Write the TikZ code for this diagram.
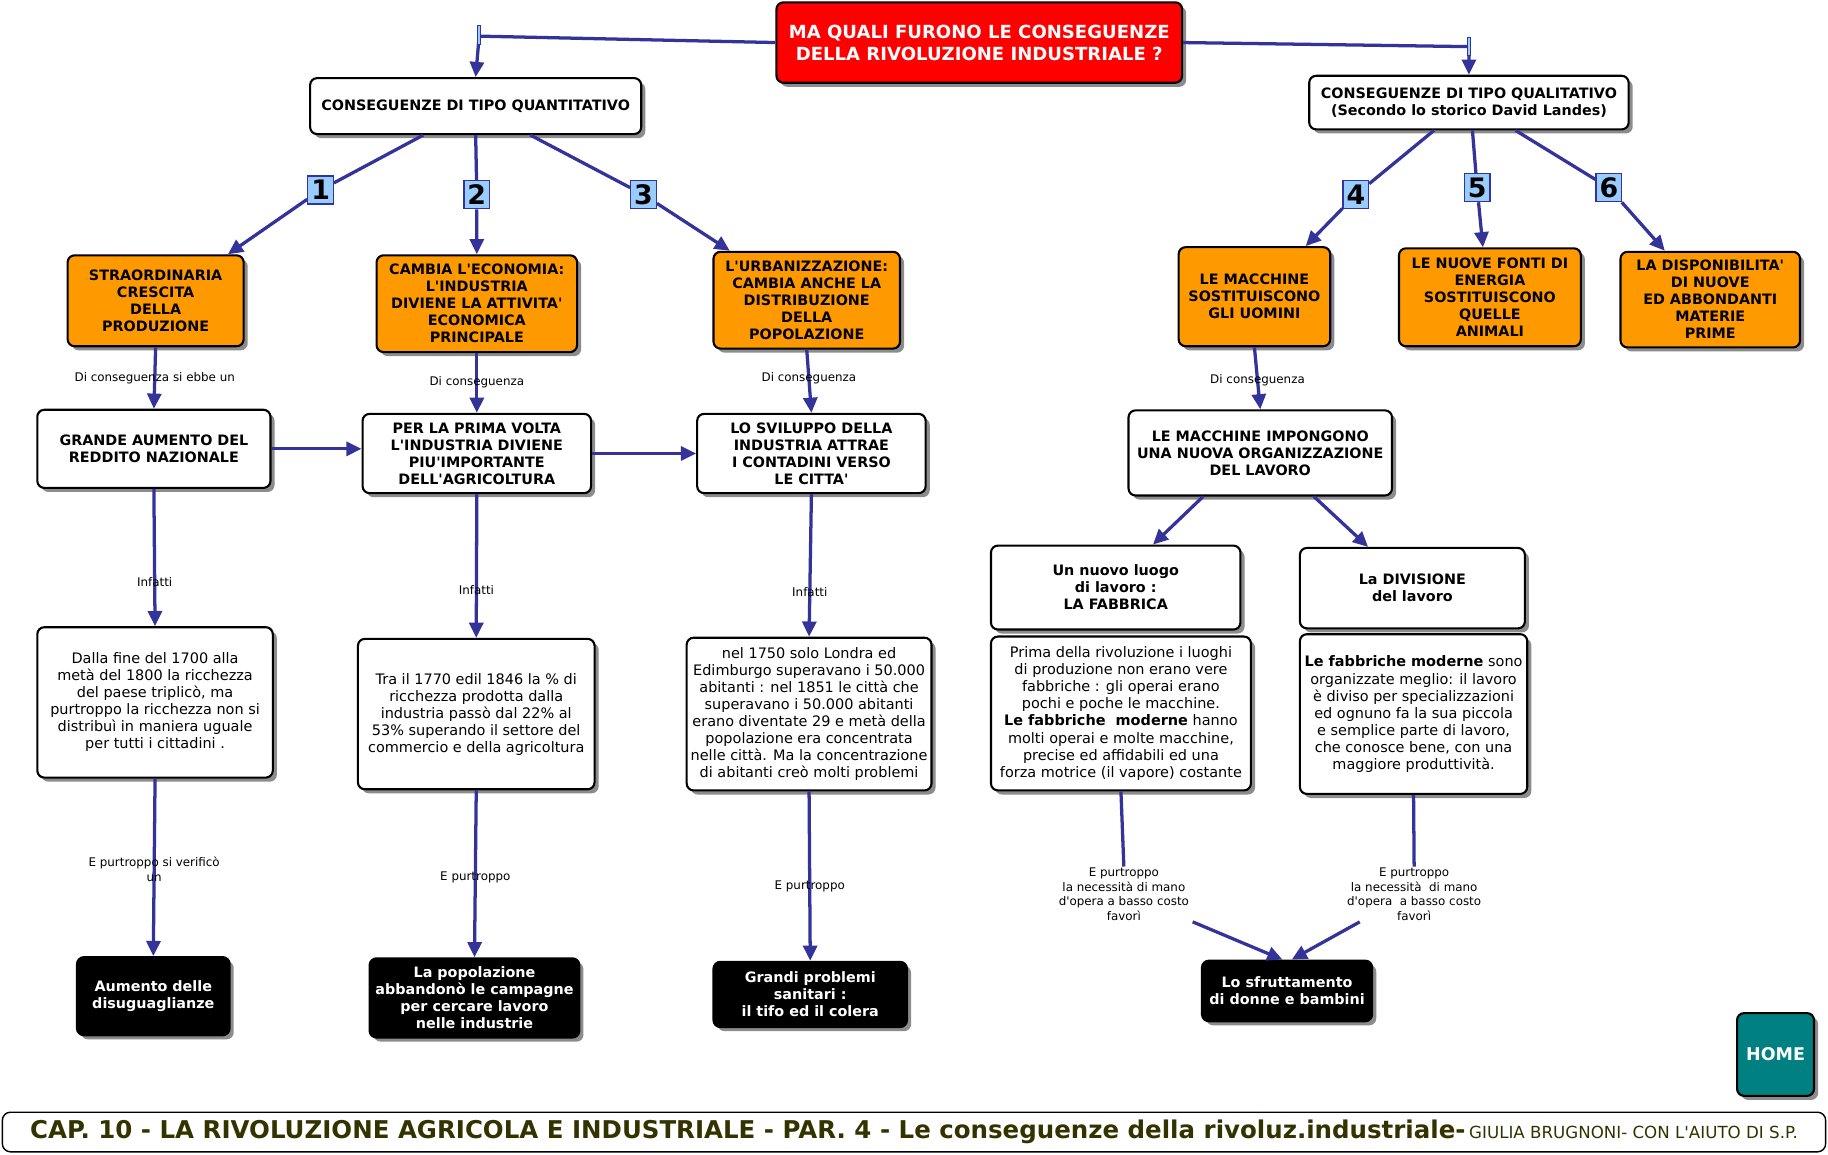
\documentclass[tikz,border=0pt]{standalone}
\usepackage{fontspec}
\setmainfont{DejaVu Sans}[Ligatures=TeXOff]
\usetikzlibrary{arrows.meta,shadows,calc}
\definecolor{arrowblue}{HTML}{333399}
\definecolor{boxorange}{HTML}{FF9900}
\definecolor{badgeblue}{HTML}{99CCFF}
\definecolor{hometeal}{HTML}{008080}
\definecolor{bannertext}{HTML}{333300}
\definecolor{titlered}{HTML}{FF0000}
\begin{document}
\begin{tikzpicture}[x=1pt,y=-1pt,
  basebox/.style={rectangle, rounded corners=6pt, draw=black, line width=1.8pt, align=center, inner sep=2pt,
    drop shadow={shadow xshift=3.5pt, shadow yshift=-3.5pt, fill=black, opacity=0.45}},
  whitebox/.style={basebox, fill=white, font=\fontsize{12.3}{14.6}\selectfont\bfseries},
  orangebox/.style={basebox, fill=boxorange, font=\fontsize{12.3}{14.6}\selectfont\bfseries},
  textbox/.style={basebox, fill=white, font=\fontsize{12.4}{14.6}\selectfont},
  blackbox/.style={basebox, fill=black, text=white, font=\fontsize{12.3}{14.6}\selectfont\bfseries},
  titlebox/.style={basebox, fill=titlered, text=white, font=\fontsize{15.5}{19}\selectfont\bfseries},
  homebox/.style={basebox, fill=hometeal, text=white, font=\fontsize{15}{18}\selectfont\bfseries},
  arr/.style={draw=arrowblue, line width=2.8pt, -{Triangle[length=13pt,width=12pt]}},
  plainline/.style={draw=arrowblue, line width=2.8pt},
  lbl/.style={font=\fontsize{10.2}{12.5}\selectfont, align=center, inner sep=1pt},
  badge/.style={rectangle, fill=badgeblue, draw=arrowblue, line width=1pt, minimum width=22pt, minimum height=24pt,
    inner sep=0pt, font=\fontsize{23}{23}\selectfont\bfseries},
  tick/.style={rectangle, fill=badgeblue, draw=arrowblue, line width=0.8pt, minimum width=3pt, minimum height=16pt, inner sep=0pt}
]
\useasboundingbox (0,0) rectangle (1568,990);

% ---------- title and two main branches
\node[titlebox, minimum width=348pt, minimum height=69pt] (title) at (840,36.5)
  {MA QUALI FURONO LE CONSEGUENZE\\DELLA RIVOLUZIONE INDUSTRIALE ?};
\node[whitebox, minimum width=284pt, minimum height=48pt] (quant) at (408,91)
  {CONSEGUENZE DI TIPO QUANTITATIVO};
\node[whitebox, minimum width=274pt, minimum height=46pt] (qual) at (1260,88)
  {CONSEGUENZE DI TIPO QUALITATIVO\\(Secondo lo storico David Landes)};

% ---------- orange boxes
\node[orangebox, minimum width=151pt, minimum height=78pt] (o1) at (133.5,258)
  {STRAORDINARIA\\CRESCITA\\DELLA\\PRODUZIONE};
\node[orangebox, minimum width=172pt, minimum height=83pt] (o2) at (409,260.5)
  {CAMBIA L'ECONOMIA:\\L'INDUSTRIA\\DIVIENE LA ATTIVITA'\\ECONOMICA\\PRINCIPALE};
\node[orangebox, minimum width=160pt, minimum height=83pt] (o3) at (692,257.5)
  {L'URBANIZZAZIONE:\\CAMBIA ANCHE LA\\DISTRIBUZIONE\\DELLA\\POPOLAZIONE};
\node[orangebox, minimum width=130pt, minimum height=85pt] (o4) at (1076,254.5)
  {LE MACCHINE\\SOSTITUISCONO\\GLI UOMINI};
\node[orangebox, minimum width=156pt, minimum height=84pt] (o5) at (1278,255)
  {LE NUOVE FONTI DI\\ENERGIA\\SOSTITUISCONO\\QUELLE\\ANIMALI};
\node[orangebox, minimum width=154pt, minimum height=82pt] (o6) at (1467,257)
  {LA DISPONIBILITA'\\DI NUOVE\\ED ABBONDANTI\\MATERIE\\PRIME};

% ---------- second row
\node[whitebox, minimum width=200pt, minimum height=67pt] (wA) at (132,385)
  {GRANDE AUMENTO DEL\\REDDITO NAZIONALE};
\node[whitebox, minimum width=196pt, minimum height=68pt] (wB) at (409,389)
  {PER LA PRIMA VOLTA\\L'INDUSTRIA DIVIENE\\PIU'IMPORTANTE\\DELL'AGRICOLTURA};
\node[whitebox, minimum width=196pt, minimum height=68pt] (wC) at (696,389)
  {LO SVILUPPO DELLA\\INDUSTRIA ATTRAE\\I CONTADINI VERSO\\LE CITTA'};
\node[whitebox, minimum width=226pt, minimum height=73pt] (wD) at (1081,388.5)
  {LE MACCHINE IMPONGONO\\UNA NUOVA ORGANIZZAZIONE\\DEL LAVORO};
\node[whitebox, minimum width=214pt, minimum height=72pt] (wE) at (957,504)
  {Un nuovo luogo\\di lavoro :\\LA FABBRICA};
\node[whitebox, minimum width=193pt, minimum height=69pt] (wF) at (1211.5,504.5)
  {La DIVISIONE\\del lavoro};

% ---------- text boxes
\node[textbox, minimum width=202pt, minimum height=129pt] (tA) at (133,602.5)
  {Dalla fine del 1700 alla\\metà del 1800 la ricchezza\\del paese triplicò, ma\\purtroppo la ricchezza non si\\distribuì in maniera uguale\\per tutti i cittadini .};
\node[textbox, minimum width=203pt, minimum height=129pt] (tB) at (408.5,612.5)
  {Tra il 1770 edil 1846 la \% di\\ricchezza prodotta dalla\\industria passò dal 22\% al\\53\% superando il settore del\\commercio e della agricoltura};
\node[textbox, minimum width=210pt, minimum height=131pt] (tC) at (694,612.5)
  {nel 1750 solo Londra ed\\Edimburgo superavano i 50.000\\abitanti : nel 1851 le città che\\superavano i 50.000 abitanti\\erano diventate 29 e metà della\\popolazione era concentrata\\nelle città. Ma la concentrazione\\di abitanti creò molti problemi};
\node[textbox, minimum width=223pt, minimum height=132pt] (tE) at (961.5,612)
  {Prima della rivoluzione i luoghi\\di produzione non erano vere\\fabbriche : gli operai erano\\pochi e poche le macchine.\\\textbf{Le fabbriche\ \ moderne} hanno\\molti operai e molte macchine,\\precise ed affidabili ed una\\forza motrice (il vapore) costante};
\node[textbox, minimum width=195pt, minimum height=137pt] (tF) at (1212.5,612.5)
  {\textbf{Le fabbriche moderne} sono\\organizzate meglio: il lavoro\\è diviso per specializzazioni\\ed ognuno fa la sua piccola\\e semplice parte di lavoro,\\che conosce bene, con una\\maggiore produttività.};

% ---------- black boxes
\node[blackbox, minimum width=131pt, minimum height=67pt] (bA) at (131.5,854.5)
  {Aumento delle\\disuguaglianze};
\node[blackbox, minimum width=180pt, minimum height=68pt] (bB) at (407,856)
  {La popolazione\\abbandonò le campagne\\per cercare lavoro\\nelle industrie};
\node[blackbox, minimum width=166pt, minimum height=56pt] (bC) at (695,853)
  {Grandi problemi\\sanitari :\\il tifo ed il colera};
\node[blackbox, minimum width=146pt, minimum height=52pt] (bG) at (1104,850)
  {Lo sfruttamento\\di donne e bambini};

% ---------- home and banner
\node[homebox, minimum width=66pt, minimum height=71pt] (home) at (1523,904.5) {HOME};
\node[rectangle, rounded corners=7pt, draw=black, line width=1.2pt, fill=white,
  minimum width=1564pt, minimum height=34pt, inner sep=0pt, text=bannertext] (banner) at (784,971)
  {{\fontsize{21}{24}\selectfont\bfseries CAP. 10 - LA RIVOLUZIONE AGRICOLA E INDUSTRIALE - PAR. 4 - Le conseguenze della rivoluz.industriale-} {\fontsize{14.3}{16}\selectfont GIULIA BRUGNONI- CON L'AIUTO DI S.P.}};

% ---------- badges, ticks, label nodes
\node[badge] (b1) at (275,163) {1};
\node[badge] (b2) at (409,167) {2};
\node[badge] (b3) at (552,167) {3};
\node[badge] (b4) at (1163,167) {4};
\node[badge] (b5) at (1267,161) {5};
\node[badge] (b6) at (1380,161) {6};
\coordinate (j1) at (411,31);
\coordinate (j2) at (1260,40);
\node[lbl] (pE) at (964,767) {E purtroppo\\la necessità di mano\\d'opera a basso costo\\favorì};
\node[lbl] (pF) at (1213,767) {E purtroppo\\la necessità\ \ di mano\\d'opera\ \ a basso costo\\favorì};

% ---------- connectors
\draw[arr] (title.west) -- (j1) -- (quant.north);
\draw[arr] (title.east) -- (j2) -- (qual.north);
\node[tick] (tk1) at (411,30) {};
\node[tick] (tk2) at (1260,40) {};

\draw[arr] ([xshift=-45pt]quant.south) -- (b1) -- ([xshift=62pt]o1.north);
\draw[arr] (quant.south) -- (b2) -- (o2.north);
\draw[arr] ([xshift=47pt]quant.south) -- (b3) -- ([xshift=-66pt]o3.north);
\draw[arr] ([xshift=-30pt]qual.south) -- (b4) -- ([xshift=44pt]o4.north);
\draw[arr] ([xshift=3pt]qual.south) -- (b5) -- ([xshift=-6pt]o5.north);
\draw[arr] ([xshift=40pt]qual.south) -- (b6) -- ([xshift=-39pt]o6.north);

\draw[arr] (o1.south) -- node[lbl, pos=0.5] (l1) {Di conseguenza si ebbe un} (wA.north);
\draw[arr] (o2.south) -- node[lbl, pos=0.49] (l2) {Di conseguenza} (wB.north);
\draw[arr] (o3.south) -- node[lbl, pos=0.46] (l3) {Di conseguenza} (wC.north);
\draw[arr] (o4.south) -- node[lbl, pos=0.53] (l4) {Di conseguenza} (wD.north);

\draw[arr] (wA.east) -- (wA.east -| wB.west);
\draw[arr] (wB.east) -- (wC.west);

\draw[arr] (wA.south) -- node[lbl, pos=0.68] (i1) {Infatti} (tA.north);
\draw[arr] (wB.south) -- node[lbl, pos=0.67] (i2) {Infatti} (tB.north);
\draw[arr] (wC.south) -- node[lbl, pos=0.69] (i3) {Infatti} (tC.north);

\draw[arr] ([xshift=-49pt]wD.south) -- ([xshift=32pt]wE.north);
\draw[arr] ([xshift=46pt]wD.south) -- ([xshift=-38pt]wF.north);

\draw[arr] (tA.south) -- node[lbl, pos=0.51] (p1) {E purtroppo si verificò\\un} (bA.north);
\draw[arr] (tB.south) -- node[lbl, pos=0.52] (p2) {E purtroppo} (bB.north);
\draw[arr] (tC.south) -- node[lbl, pos=0.56] (p3) {E purtroppo} (bC.north);

\draw[plainline] (tE.south) -- (pE.north);
\draw[plainline] (tF.south) -- (pF.north);
\draw[arr] ([xshift=2pt]pE.south east) -- ([xshift=-4pt]bG.north);
\draw[arr] ([xshift=12pt]pF.south west) -- ([xshift=4pt]bG.north);
\end{tikzpicture}
\end{document}
